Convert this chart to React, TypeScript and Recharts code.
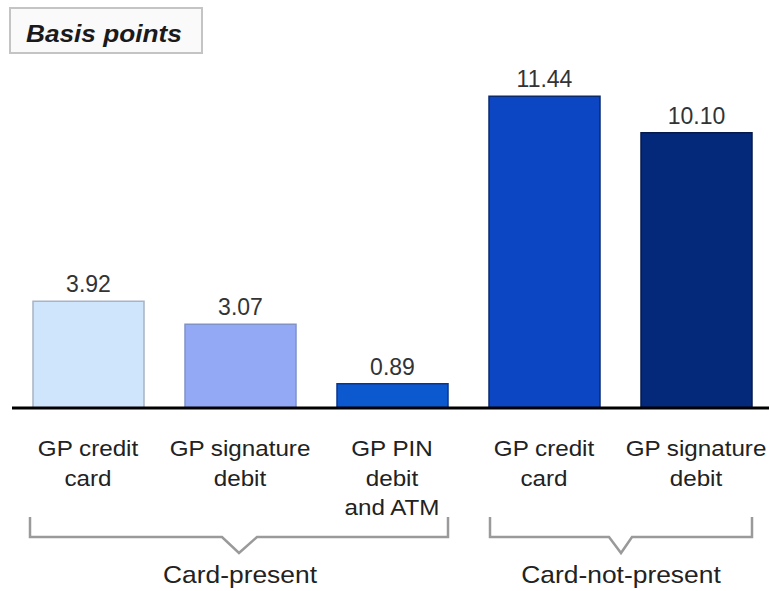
import { BarChart, Bar, XAxis, YAxis, Cell, LabelList } from 'recharts';

const categories = ['GP credit card', 'GP signature debit', 'GP PIN debit and ATM', 'GP credit card ', 'GP signature debit '];
const tickLines = [
  ['GP credit', 'card'],
  ['GP signature', 'debit'],
  ['GP PIN', 'debit', 'and ATM'],
  ['GP credit', 'card'],
  ['GP signature', 'debit'],
];
const values = [3.92, 3.07, 0.89, 11.44, 10.1];
const fills = ['#cfe5fc', '#93a9f6', '#0b58cf', '#0c46c2', '#05297a'];
const strokes = ['#a9b3c4', '#7f93c9', '#08368f', '#0a2a6e', '#041a4d'];
const groups = ['Card-present', 'Card-not-present'];

const data = categories.map((name, i) => ({ name, value: values[i], idx: i }));

const FONT = 'Liberation Sans, Arial, sans-serif';

// the source text looks a bit wider than Arial, so stretch it a little
const Stretch = ({ x, y, size, sx, children, weight, italic }: any) => (
  <text
    transform={`translate(${x},${y}) scale(${sx},1)`}
    textAnchor="middle"
    fontSize={size}
    fill="#222"
    fontFamily={FONT}
    fontWeight={weight}
    fontStyle={italic ? 'italic' : undefined}
  >
    {children}
  </text>
);

const Tick = ({ x, y, index }: any) => {
  const lines = tickLines[index] || [];
  return (
    <g>
      {lines.map((l, k) => (
        <Stretch key={k} x={x} y={y + 40 + k * 29.5} size={22} sx={1.1}>
          {l}
        </Stretch>
      ))}
    </g>
  );
};

export default function App() {
  return (
    <div style={{ position: 'absolute', left: 0, top: 0, width: 769, height: 591, background: '#fff', overflow: 'hidden' }}>
      <BarChart width={772} height={591} data={data} margin={{ top: 70, right: 0, bottom: 0, left: 12 }}>
        <YAxis hide domain={[0, 12.4]} />
        <XAxis
          dataKey="name"
          height={183}
          tickLine={false}
          axisLine={{ stroke: '#000', strokeWidth: 3 }}
          tick={<Tick />}
          interval={0}
        />
        <Bar dataKey="value" barSize={111} isAnimationActive={false}>
          {data.map((d, i) => (
            <Cell key={i} fill={fills[i]} stroke={strokes[i]} strokeWidth={1.5} />
          ))}
          <LabelList
            dataKey="value"
            position="top"
            offset={9}
            formatter={(v: any) => Number(v).toFixed(2)}
            style={{ fontSize: 23, fill: '#333', fontFamily: FONT }}
          />
        </Bar>
      </BarChart>
      <svg width={769} height={591} style={{ position: 'absolute', left: 0, top: 0, pointerEvents: 'none' }}>
        <rect x={10} y={8} width={192} height={45} fill="#fafafa" stroke="#c4c4c4" strokeWidth={2} />
        <text
          transform="translate(26,42) scale(1.14,1)"
          fontSize={23}
          fontWeight="bold"
          fontStyle="italic"
          fill="#1a1a1a"
          fontFamily={FONT}
        >
          Basis points
        </text>
        <path d="M30,517 V537 H222 L239,553 L257,537 H448 V517" fill="none" stroke="#9a9a9a" strokeWidth={2.5} />
        <path d="M490,517 V537 H609 L621,553 L632,537 H752 V517" fill="none" stroke="#9a9a9a" strokeWidth={2.5} />
        <Stretch x={240} y={583} size={24} sx={1.1}>
          {groups[0]}
        </Stretch>
        <Stretch x={621} y={583} size={24} sx={1.1}>
          {groups[1]}
        </Stretch>
      </svg>
    </div>
  );
}
